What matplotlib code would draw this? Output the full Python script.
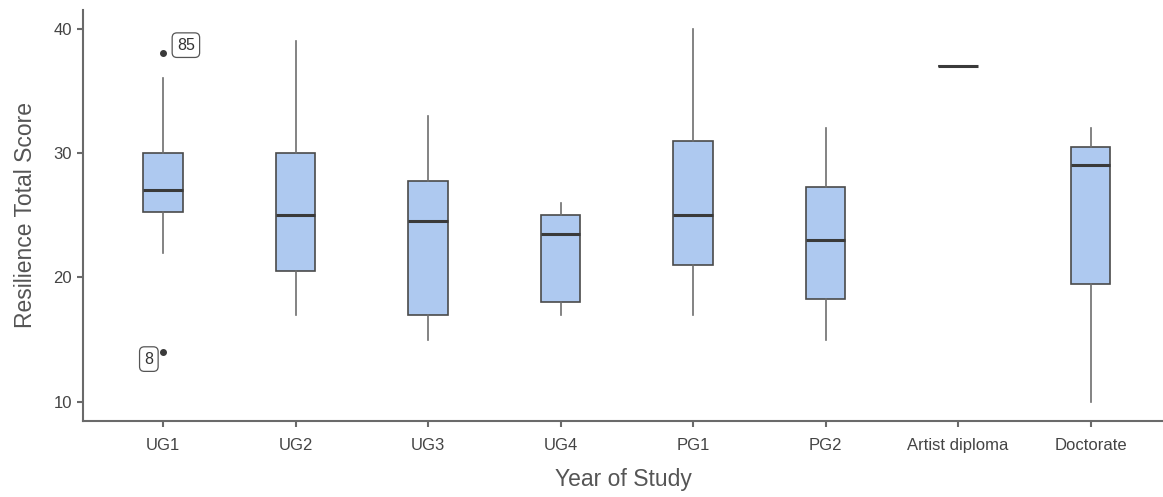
import matplotlib
matplotlib.use("Agg")
import matplotlib.pyplot as plt

categories = ["UG1", "UG2", "UG3", "UG4", "PG1", "PG2", "Artist diploma", "Doctorate"]
whislo = [22, 17, 15, 17, 17, 15, 37, 10]
q1 = [25.25, 20.5, 17, 18, 21, 18.25, 37, 19.5]
med = [27, 25, 24.5, 23.5, 25, 23, 37, 29]
q3 = [30, 30, 27.75, 25, 31, 27.25, 37, 30.5]
whishi = [36, 39, 33, 26, 40, 32, 37, 32]
outliers = {"UG1": [38, 14]}
outlier_labels = {"UG1": ["85", "8"]}

plt.rcParams['font.family'] = ['Liberation Sans', 'DejaVu Sans']

fig = plt.figure(figsize=(11.63, 4.97), dpi=100)
ax = fig.add_axes([0.0714, 0.153, 0.9286, 0.827])

stats = []
for i, c in enumerate(categories):
    stats.append(dict(label=c, whislo=whislo[i], q1=q1[i], med=med[i], q3=q3[i],
                      whishi=whishi[i], fliers=outliers.get(c, [])))

pos = list(range(len(categories)))
bp = ax.bxp(stats, positions=pos, widths=0.3, patch_artist=True, showcaps=False,
            boxprops=dict(facecolor="#aec9f0", edgecolor="#4a4a4a", linewidth=1.2),
            medianprops=dict(color="#3a3a3a", linewidth=2.2),
            whiskerprops=dict(color="#6e6e6e", linewidth=1.2),
            flierprops=dict(marker="o", markerfacecolor="#3a3a3a", markeredgecolor="#3a3a3a",
                            markersize=4))

for c, vals in outliers.items():
    i = categories.index(c)
    labs = outlier_labels[c]
    for v, lab in zip(vals, labs):
        if v > med[i]:
            ax.annotate(lab, (pos[i], v), xytext=(10, 6), textcoords="offset points",
                        ha="left", va="center", fontsize=11.5, color="#333333",
                        bbox=dict(boxstyle="round,pad=0.3", fc="white", ec="#555555", lw=0.9))
        else:
            ax.annotate(lab, (pos[i], v), xytext=(-7, -5), textcoords="offset points",
                        ha="right", va="center", fontsize=11.5, color="#333333",
                        bbox=dict(boxstyle="round,pad=0.3", fc="white", ec="#555555", lw=0.9))

ax.set_xlim(-0.604, 7.547)
ax.set_ylim(8.47, 41.5)
ax.set_yticks([10, 20, 30, 40])
ax.set_xticks(pos)
ax.set_xticklabels(categories)
for s in ["top", "right"]:
    ax.spines[s].set_visible(False)
for s in ["left", "bottom"]:
    ax.spines[s].set_color("#6a6a6a")
    ax.spines[s].set_linewidth(1.5)
ax.tick_params(axis="both", colors="#6a6a6a", labelcolor="#444444", labelsize=12,
               length=4, width=1.5)
ax.tick_params(axis="x", pad=8)
ax.tick_params(axis="y", pad=4)
ax.set_xlabel("Year of Study", fontsize=16.5, color="#555555", labelpad=11)
ax.set_ylabel("Resilience Total Score", fontsize=16.5, color="#555555", labelpad=12)

fig.savefig("out.png", dpi=100)
